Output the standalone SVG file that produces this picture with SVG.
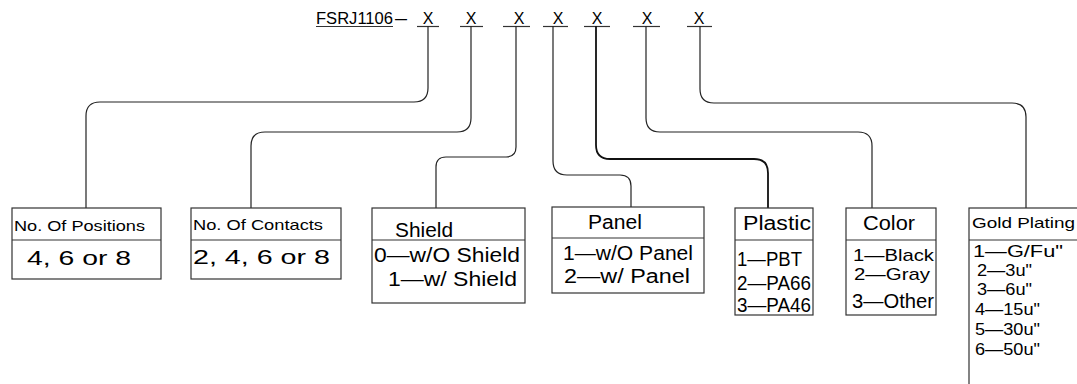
<svg xmlns="http://www.w3.org/2000/svg" width="1077" height="384" viewBox="0 0 1077 384">
<style>
text{font-family:"Liberation Sans",Arial,sans-serif;fill:#000;}
.t{font-size:20px;}
.m{font-size:17px;}
.s{font-size:15px;}
.h{font-size:16px;}
.box{fill:none;stroke:#333;stroke-width:1.2;}
.con{fill:none;stroke:#222;stroke-width:1.2;}
.ul{stroke:#333;stroke-width:1.2;}
</style>
<rect width="1077" height="384" fill="#fff"/>
<g id="header">
<text class="h" x="316" y="24" textLength="77" lengthAdjust="spacingAndGlyphs">FSRJ1106</text>
<text class="h" x="395" y="24" textLength="12" lengthAdjust="spacingAndGlyphs">—</text>
<line class="ul" x1="316" y1="26.5" x2="393" y2="26.5"/>
<g text-anchor="middle">
<text class="h" x="428" y="24">X</text>
<text class="h" x="471" y="24">X</text>
<text class="h" x="519" y="24">X</text>
<text class="h" x="558" y="24">X</text>
<text class="h" x="597" y="24">X</text>
<text class="h" x="647" y="24">X</text>
<text class="h" x="699" y="24">X</text>
</g>
<line class="ul" x1="417" y1="26.5" x2="439" y2="26.5"/>
<line class="ul" x1="460" y1="26.5" x2="483" y2="26.5"/>
<line class="ul" x1="503" y1="26.5" x2="530" y2="26.5"/>
<line class="ul" x1="543" y1="26.5" x2="568" y2="26.5"/>
<line class="ul" x1="584" y1="26.5" x2="610" y2="26.5"/>
<line class="ul" x1="633" y1="26.5" x2="660" y2="26.5"/>
<line class="ul" x1="687" y1="26.5" x2="712" y2="26.5"/>
</g>
<g id="connectors">
<path class="con" d="M428,26 V88 Q428,102 414,102 H100 Q86,102 86,116 V208"/>
<path class="con" d="M471,26 V118 Q471,132 457,132 H265 Q251,132 251,146 V208"/>
<path class="con" d="M516,26 V147 Q516,157 506,157 H446 Q436,157 436,167 V208"/>
<path class="con" d="M553,26 V161 Q553,175 567,175 H620 Q631,175 631,186 V207"/>
<path class="con" d="M596,26 V145 Q596,159 610,159 H754 Q768,159 768,173 V208" style="stroke-width:1.8;stroke:#111"/>
<path class="con" d="M646,26 V118 Q646,132 660,132 H858 Q872,132 872,146 V208"/>
<path class="con" d="M700,26 V89 Q700,103 714,103 H1012 Q1026,103 1026,117 V208"/>
</g>
<g id="positions">
<rect class="box" x="12" y="208" width="149" height="71"/>
<line class="box" x1="12" y1="240" x2="161" y2="240"/>
<text class="s" x="14" y="231" textLength="131" lengthAdjust="spacingAndGlyphs">No. Of Positions</text>
<text class="t" x="27" y="265" textLength="104" lengthAdjust="spacingAndGlyphs">4, 6 or 8</text>
</g>
<g id="contacts">
<rect class="box" x="191" y="208" width="150" height="71"/>
<line class="box" x1="191" y1="240" x2="341" y2="240"/>
<text class="s" x="193" y="230" textLength="130" lengthAdjust="spacingAndGlyphs">No. Of Contacts</text>
<text class="t" x="193" y="264" textLength="137" lengthAdjust="spacingAndGlyphs">2, 4, 6 or 8</text>
</g>
<g id="shield">
<rect class="box" x="372" y="208" width="153" height="95"/>
<line class="box" x1="372" y1="240" x2="525" y2="240"/>
<text class="t" x="395" y="237" textLength="58" lengthAdjust="spacingAndGlyphs">Shield</text>
<text class="t" x="374" y="262" textLength="146" lengthAdjust="spacingAndGlyphs">0—w/O Shield</text>
<text class="t" x="388" y="286" textLength="129" lengthAdjust="spacingAndGlyphs">1—w/ Shield</text>
</g>
<g id="panel">
<rect class="box" x="552" y="207" width="152" height="86"/>
<line class="box" x1="552" y1="238" x2="704" y2="238"/>
<text class="t" x="588" y="229" textLength="54" lengthAdjust="spacingAndGlyphs">Panel</text>
<text class="t" x="563" y="260" textLength="130" lengthAdjust="spacingAndGlyphs">1—w/O Panel</text>
<text class="t" x="564" y="283" textLength="126" lengthAdjust="spacingAndGlyphs">2—w/ Panel</text>
</g>
<g id="plastic">
<rect class="box" x="735" y="208" width="78" height="107"/>
<line class="box" x1="735" y1="240" x2="813" y2="240"/>
<text class="t" x="743" y="230" textLength="68" lengthAdjust="spacingAndGlyphs">Plastic</text>
<text class="t" x="737" y="266" textLength="65" lengthAdjust="spacingAndGlyphs">1—PBT</text>
<text class="t" x="737" y="290" textLength="74" lengthAdjust="spacingAndGlyphs">2—PA66</text>
<text class="t" x="737" y="312" textLength="74" lengthAdjust="spacingAndGlyphs">3—PA46</text>
</g>
<g id="color">
<rect class="box" x="846" y="208" width="90" height="107"/>
<line class="box" x1="846" y1="240" x2="936" y2="240"/>
<text class="t" x="863" y="230" textLength="52" lengthAdjust="spacingAndGlyphs">Color</text>
<text class="m" x="853" y="261" textLength="81" lengthAdjust="spacingAndGlyphs">1—Black</text>
<text class="m" x="854" y="280" textLength="76" lengthAdjust="spacingAndGlyphs">2—Gray</text>
<text class="t" x="852" y="308" textLength="82" lengthAdjust="spacingAndGlyphs">3—Other</text>
</g>
<g id="gold-plating">
<rect class="box" x="969" y="208" width="120" height="190"/>
<line class="box" x1="969" y1="240" x2="1089" y2="240"/>
<text class="s" x="972" y="228" textLength="103" lengthAdjust="spacingAndGlyphs">Gold Plating</text>
<text class="m" x="973" y="257" textLength="90" lengthAdjust="spacingAndGlyphs">1—G/Fu"</text>
<text class="m" x="977" y="276" textLength="55" lengthAdjust="spacingAndGlyphs">2—3u"</text>
<text class="m" x="977" y="295" textLength="55" lengthAdjust="spacingAndGlyphs">3—6u"</text>
<text class="m" x="975" y="315" textLength="65" lengthAdjust="spacingAndGlyphs">4—15u"</text>
<text class="m" x="975" y="335" textLength="65" lengthAdjust="spacingAndGlyphs">5—30u"</text>
<text class="m" x="975" y="355" textLength="65" lengthAdjust="spacingAndGlyphs">6—50u"</text>
</g>
</svg>
